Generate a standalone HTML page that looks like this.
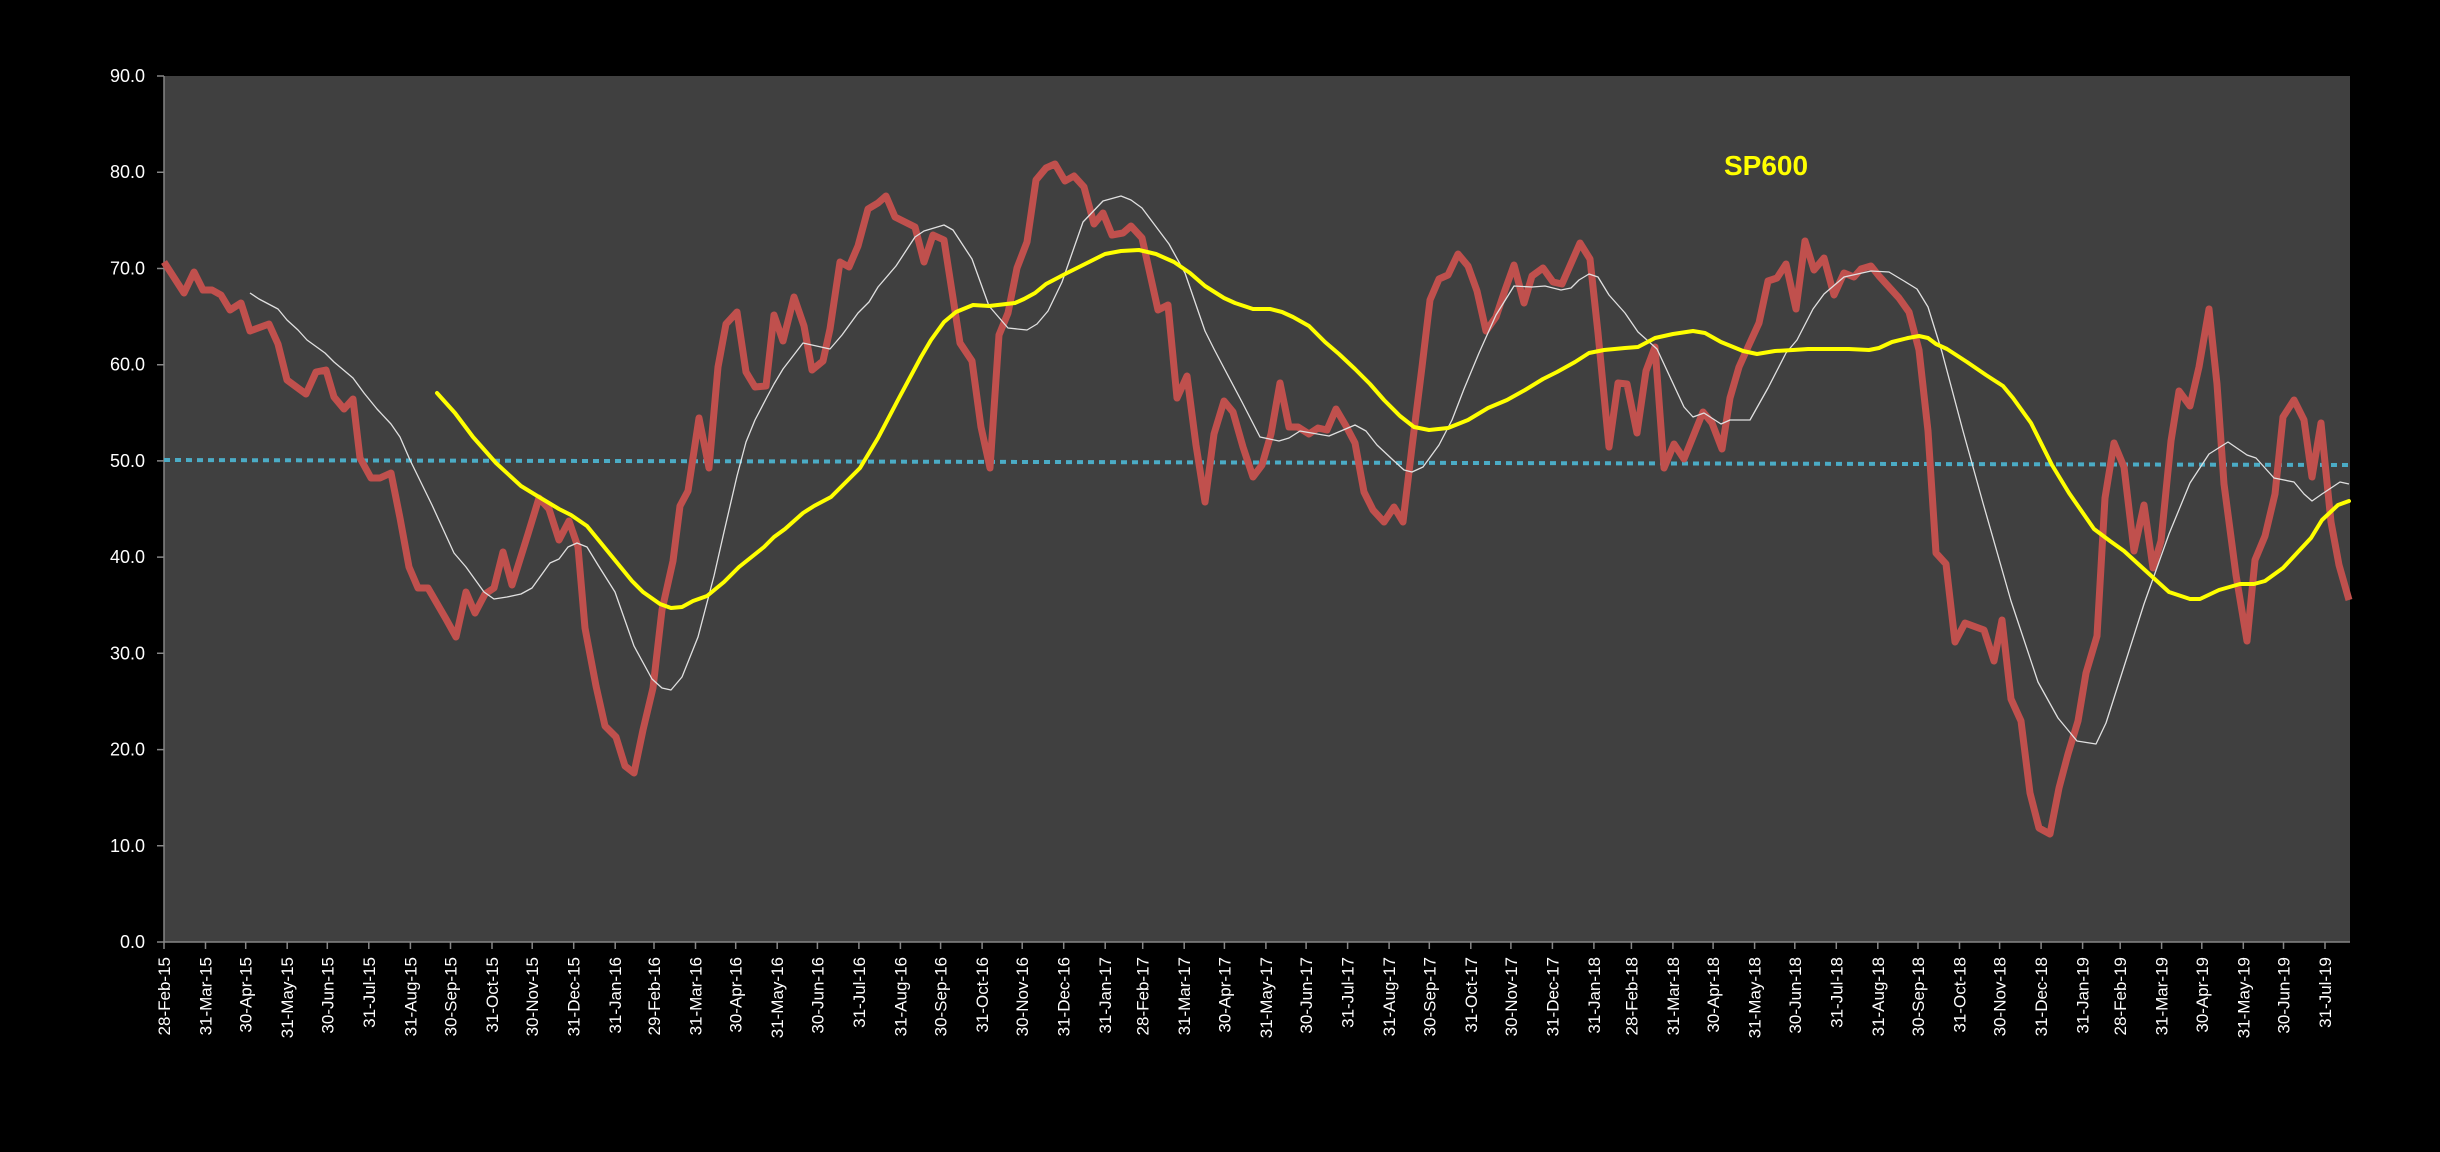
<!DOCTYPE html>
<html><head><meta charset="utf-8"><style>
html,body{margin:0;padding:0;background:#000;}
svg{display:block;}
text{font-family:"Liberation Sans",sans-serif;fill:#fff;}
</style></head><body>
<svg width="2440" height="1152" viewBox="0 0 2440 1152" xmlns="http://www.w3.org/2000/svg">
<rect x="0" y="0" width="2440" height="1152" fill="#000"/>
<rect x="164" y="76" width="2186" height="866" fill="#404040"/>
<g stroke="#868686" stroke-width="1.5" fill="none">
<line x1="164" y1="76" x2="164" y2="942"/>
<line x1="164" y1="942" x2="2350" y2="942"/>
<path d="M157 76H164M157 172.2H164M157 268.5H164M157 364.7H164M157 460.9H164M157 557.1H164M157 653.3H164M157 749.6H164M157 845.8H164M157 942H164"/>
<path d="M164 942v7M205.5 942v7M245.7 942v7M287.2 942v7M327.3 942v7M368.8 942v7M410.4 942v7M450.5 942v7M492 942v7M532.2 942v7M573.7 942v7M615.2 942v7M654 942v7M695.5 942v7M735.7 942v7M777.2 942v7M817.4 942v7M858.9 942v7M900.4 942v7M940.6 942v7M982.1 942v7M1022.2 942v7M1063.7 942v7M1105.2 942v7M1142.7 942v7M1184.2 942v7M1224.4 942v7M1265.9 942v7M1306.1 942v7M1347.6 942v7M1389.1 942v7M1429.3 942v7M1470.8 942v7M1510.9 942v7M1552.4 942v7M1593.9 942v7M1631.4 942v7M1672.9 942v7M1713.1 942v7M1754.6 942v7M1794.8 942v7M1836.3 942v7M1877.8 942v7M1918 942v7M1959.5 942v7M1999.6 942v7M2041.1 942v7M2082.6 942v7M2120.2 942v7M2161.6 942v7M2201.8 942v7M2243.3 942v7M2283.5 942v7M2325 942v7"/>
</g>
<g font-size="18" text-anchor="end">
<text x="145" y="82">90.0</text>
<text x="145" y="178.2">80.0</text>
<text x="145" y="274.5">70.0</text>
<text x="145" y="370.7">60.0</text>
<text x="145" y="466.9">50.0</text>
<text x="145" y="563.1">40.0</text>
<text x="145" y="659.3">30.0</text>
<text x="145" y="755.6">20.0</text>
<text x="145" y="851.8">10.0</text>
<text x="145" y="948">0.0</text>
</g>
<g font-size="17" text-anchor="end">
<text transform="translate(170,957) rotate(-90)">28-Feb-15</text>
<text transform="translate(211.5,957) rotate(-90)">31-Mar-15</text>
<text transform="translate(251.7,957) rotate(-90)">30-Apr-15</text>
<text transform="translate(293.2,957) rotate(-90)">31-May-15</text>
<text transform="translate(333.3,957) rotate(-90)">30-Jun-15</text>
<text transform="translate(374.8,957) rotate(-90)">31-Jul-15</text>
<text transform="translate(416.4,957) rotate(-90)">31-Aug-15</text>
<text transform="translate(456.5,957) rotate(-90)">30-Sep-15</text>
<text transform="translate(498,957) rotate(-90)">31-Oct-15</text>
<text transform="translate(538.2,957) rotate(-90)">30-Nov-15</text>
<text transform="translate(579.7,957) rotate(-90)">31-Dec-15</text>
<text transform="translate(621.2,957) rotate(-90)">31-Jan-16</text>
<text transform="translate(660,957) rotate(-90)">29-Feb-16</text>
<text transform="translate(701.5,957) rotate(-90)">31-Mar-16</text>
<text transform="translate(741.7,957) rotate(-90)">30-Apr-16</text>
<text transform="translate(783.2,957) rotate(-90)">31-May-16</text>
<text transform="translate(823.4,957) rotate(-90)">30-Jun-16</text>
<text transform="translate(864.9,957) rotate(-90)">31-Jul-16</text>
<text transform="translate(906.4,957) rotate(-90)">31-Aug-16</text>
<text transform="translate(946.6,957) rotate(-90)">30-Sep-16</text>
<text transform="translate(988.1,957) rotate(-90)">31-Oct-16</text>
<text transform="translate(1028.2,957) rotate(-90)">30-Nov-16</text>
<text transform="translate(1069.7,957) rotate(-90)">31-Dec-16</text>
<text transform="translate(1111.2,957) rotate(-90)">31-Jan-17</text>
<text transform="translate(1148.7,957) rotate(-90)">28-Feb-17</text>
<text transform="translate(1190.2,957) rotate(-90)">31-Mar-17</text>
<text transform="translate(1230.4,957) rotate(-90)">30-Apr-17</text>
<text transform="translate(1271.9,957) rotate(-90)">31-May-17</text>
<text transform="translate(1312.1,957) rotate(-90)">30-Jun-17</text>
<text transform="translate(1353.6,957) rotate(-90)">31-Jul-17</text>
<text transform="translate(1395.1,957) rotate(-90)">31-Aug-17</text>
<text transform="translate(1435.3,957) rotate(-90)">30-Sep-17</text>
<text transform="translate(1476.8,957) rotate(-90)">31-Oct-17</text>
<text transform="translate(1516.9,957) rotate(-90)">30-Nov-17</text>
<text transform="translate(1558.4,957) rotate(-90)">31-Dec-17</text>
<text transform="translate(1599.9,957) rotate(-90)">31-Jan-18</text>
<text transform="translate(1637.4,957) rotate(-90)">28-Feb-18</text>
<text transform="translate(1678.9,957) rotate(-90)">31-Mar-18</text>
<text transform="translate(1719.1,957) rotate(-90)">30-Apr-18</text>
<text transform="translate(1760.6,957) rotate(-90)">31-May-18</text>
<text transform="translate(1800.8,957) rotate(-90)">30-Jun-18</text>
<text transform="translate(1842.3,957) rotate(-90)">31-Jul-18</text>
<text transform="translate(1883.8,957) rotate(-90)">31-Aug-18</text>
<text transform="translate(1924,957) rotate(-90)">30-Sep-18</text>
<text transform="translate(1965.5,957) rotate(-90)">31-Oct-18</text>
<text transform="translate(2005.6,957) rotate(-90)">30-Nov-18</text>
<text transform="translate(2047.1,957) rotate(-90)">31-Dec-18</text>
<text transform="translate(2088.6,957) rotate(-90)">31-Jan-19</text>
<text transform="translate(2126.2,957) rotate(-90)">28-Feb-19</text>
<text transform="translate(2167.6,957) rotate(-90)">31-Mar-19</text>
<text transform="translate(2207.8,957) rotate(-90)">30-Apr-19</text>
<text transform="translate(2249.3,957) rotate(-90)">31-May-19</text>
<text transform="translate(2289.5,957) rotate(-90)">30-Jun-19</text>
<text transform="translate(2331,957) rotate(-90)">31-Jul-19</text>
</g>
<line x1="164" y1="460" x2="2350" y2="465" stroke="#4bacc6" stroke-width="4" stroke-dasharray="6,5"/>
<!-- red -->
<polyline fill="none" stroke="#c0504d" stroke-width="7" stroke-linejoin="round" points="164,262 184,293 194,272 203,290 212,290 221,295 230,310 241,303 250,331 269,324 278,344 287,380 306,394 316,372 326,370 334,397 344,409 353,399 360,458 371,478 380,478 391,473 400,518 409,567 418,588 428,588 446,619 456,637 466,592 475,613 485,594 494,588 503,552 512,585 528,534 539,498 549,509 559,540 569,521 578,547 585,628 596,686 605,726 616,737 625,766 634,773 643,730 653,688 662,610 673,561 680,506 688,491 699,418 709,468 718,367 726,324 737,312 746,372 755,387 766,386 774,315 783,341 794,297 804,326 812,370 823,361 830,329 840,262 849,267 858,246 868,209 878,203 886,196 895,217 915,227 924,262 933,235 944,240 960,343 972,361 981,427 990,468 999,335 1008,313 1017,268 1027,242 1036,180 1046,168 1055,164 1065,181 1074,176 1084,187 1094,224 1103,213 1112,235 1123,233 1131,226 1142,238 1158,310 1168,305 1177,398 1187,376 1196,445 1205,502 1214,434 1224,401 1233,412 1243,447 1253,477 1262,465 1271,434 1280,383 1289,427 1298,427 1309,434 1318,428 1327,430 1336,409 1346,426 1355,443 1364,492 1373,510 1384,522 1394,507 1403,522 1412,447 1422,367 1430,300 1439,279 1448,275 1458,254 1468,266 1477,291 1486,331 1496,317 1504,293 1514,265 1524,303 1532,276 1543,268 1553,282 1562,284 1580,243 1590,259 1598,333 1609,447 1618,383 1627,384 1637,433 1646,371 1655,347 1664,468 1674,444 1684,459 1703,412 1712,423 1722,449 1730,398 1739,367 1748,347 1759,323 1768,281 1777,278 1786,264 1796,309 1805,241 1814,270 1824,258 1834,295 1844,273 1854,277 1861,269 1871,266 1879,276 1899,298 1909,312 1919,350 1928,431 1936,553 1946,564 1955,642 1965,623 1984,630 1994,661 2002,620 2011,699 2021,721 2030,793 2039,828 2050,834 2059,788 2068,754 2078,721 2086,673 2097,636 2105,498 2114,443 2124,467 2134,551 2144,505 2153,568 2161,541 2171,441 2179,391 2190,406 2199,367 2209,309 2217,384 2224,484 2236,575 2247,641 2255,560 2265,536 2275,494 2283,417 2294,400 2304,420 2312,477 2321,423 2331,522 2339,565 2349,600"/>
<!-- white -->
<polyline fill="none" stroke="#e0e0e0" stroke-width="1.3" stroke-linejoin="round" points="250,293 259,299 278,309 287,320 298,330 307,340 325,353 334,362 353,378 364,393 377,409 391,424 400,437 410,460 432,505 454,553 466,567 484,592 494,599 507,597 521,594 532,588 550,563 559,559 568,547 577,543 587,547 598,565 615,592 634,646 652,679 662,688 671,690 682,677 698,637 714,576 724,532 737,476 746,442 755,420 767,397 774,384 783,369 803,343 830,349 842,335 858,313 869,302 878,287 896,266 915,237 924,231 944,225 953,230 972,259 989,306 1008,328 1027,330 1037,324 1048,311 1062,282 1083,222 1103,201 1121,196 1131,200 1142,208 1169,244 1185,273 1205,331 1214,349 1224,368 1242,402 1260,437 1279,441 1289,438 1300,431 1329,436 1355,425 1366,431 1377,445 1393,460 1404,470 1412,472 1423,467 1439,445 1452,420 1464,389 1479,353 1496,315 1514,286 1532,287 1545,286 1561,290 1571,288 1579,280 1589,274 1598,277 1609,295 1625,313 1638,332 1657,349 1684,407 1693,417 1704,413 1721,424 1730,420 1750,420 1768,388 1786,353 1797,340 1813,309 1824,294 1844,277 1871,271 1889,272 1904,281 1917,289 1928,307 1942,352 1963,431 1983,503 2011,601 2038,682 2058,718 2077,741 2096,744 2106,723 2144,604 2169,534 2190,483 2209,454 2228,442 2247,455 2256,458 2274,478 2294,482 2304,494 2312,501 2322,494 2340,482 2349,484"/>
<!-- yellow -->
<polyline fill="none" stroke="#ffff00" stroke-width="4" stroke-linejoin="round" stroke-linecap="round" points="437,393 455,413 473,437 496,463 521,486 539,497 559,509 571,515 587,526 614,559 632,581 643,592 660,604 671,608 682,607 693,601 707,596 724,582 739,567 764,547 774,537 785,529 803,513 814,506 831,497 839,489 860,468 878,438 899,398 921,357 931,340 944,322 956,312 973,305 989,306 1015,303 1024,299 1035,293 1046,284 1067,273 1089,262 1105,254 1121,251 1139,250 1156,254 1174,262 1190,273 1205,286 1224,298 1235,303 1253,309 1270,309 1282,312 1293,317 1309,326 1325,342 1339,354 1355,369 1370,384 1384,400 1400,416 1414,427 1429,430 1448,428 1468,420 1488,408 1507,400 1525,390 1543,379 1557,372 1575,362 1589,353 1604,350 1625,348 1638,347 1655,338 1673,334 1693,331 1705,333 1721,342 1743,351 1757,354 1775,351 1793,350 1808,349 1849,349 1869,350 1879,348 1892,342 1908,338 1919,336 1928,338 1936,344 1947,349 1967,362 1986,375 2003,386 2013,398 2031,423 2052,465 2069,493 2094,529 2110,541 2124,551 2147,572 2169,592 2190,599 2200,599 2219,590 2240,584 2254,584 2265,581 2283,568 2297,553 2311,538 2322,520 2338,505 2349,501"/>
<text x="1724" y="175" font-size="28" font-weight="bold" style="fill:#ffff00">SP600</text>
</svg>
</body></html>
